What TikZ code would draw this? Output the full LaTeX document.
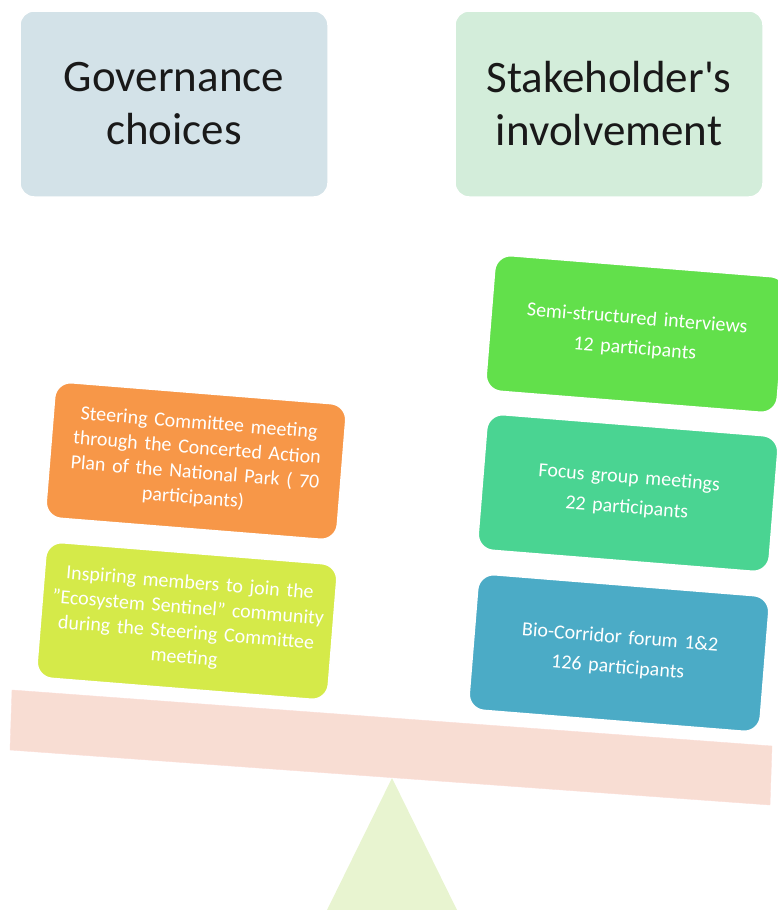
\documentclass[tikz,border=0pt]{standalone}
\usepackage{fontspec}
\setmainfont{Carlito}

\definecolor{govblue}{HTML}{D3E2E8}
\definecolor{stakegreen}{HTML}{D3EDDA}
\definecolor{steerorange}{HTML}{F79748}
\definecolor{inspirelime}{HTML}{D5EA49}
\definecolor{interviewgreen}{HTML}{62E04B}
\definecolor{focusteal}{HTML}{4AD492}
\definecolor{forumblue}{HTML}{4BABC6}
\definecolor{beamrose}{HTML}{F8DDD3}
\definecolor{pivotgreen}{HTML}{E8F4D0}

\begin{document}
\begin{tikzpicture}[x=1pt, y=-1pt,
    headbox/.style={draw=white, line width=1.5pt, rounded corners=14pt,
        minimum width=308pt, minimum height=186pt, align=center,
        text=black!90, font=\fontsize{45}{53}\selectfont},
    actbox/.style={draw=white, line width=1.5pt, rounded corners=16pt,
        minimum width=292pt, minimum height=136pt, align=center,
        text width=276pt, text=white, rotate=-4.6,
        font=\fontsize{20}{25}\selectfont},
    actwide/.style={actbox, font=\fontsize{20}{30}\selectfont}]
    \useasboundingbox (0,0) rectangle (777,910);

    % headings
    \node[headbox, fill=govblue] (gov) at (174,104) {Governance\\choices};
    \node[headbox, fill=stakegreen] (stake) at (609,104) {Stakeholder\textquotesingle s\\involvement};

    % pivot and beam
    \fill[pivotgreen] (392,778) -- (457,910) -- (327,910) -- cycle;
    \draw[fill=beamrose, draw=beamrose!90!red!60!white] (12,690) -- (772,746) -- (770,805) -- (10,750) -- cycle;

    % left pan
    \node[actbox, fill=steerorange] (steer) at (196,461)
        {Steering Committee meeting\\through the Concerted Action\\Plan of the National Park ( 70\\participants)};
    \node[actbox, fill=inspirelime] (inspire) at (187,621)
        {Inspiring members to join the\\"Ecosystem Sentinel" community\\during the Steering Committee\\meeting};

    % right pan
    \node[actwide, fill=interviewgreen] (interview) at (636,334)
        {Semi-structured interviews\\12 participants};
    \node[actwide, fill=focusteal] (focus) at (628,493)
        {Focus group meetings\\22 participants};
    \node[actwide, fill=forumblue] (forum) at (619,653)
        {Bio-Corridor forum 1\&2\\126 participants};
\end{tikzpicture}
\end{document}
